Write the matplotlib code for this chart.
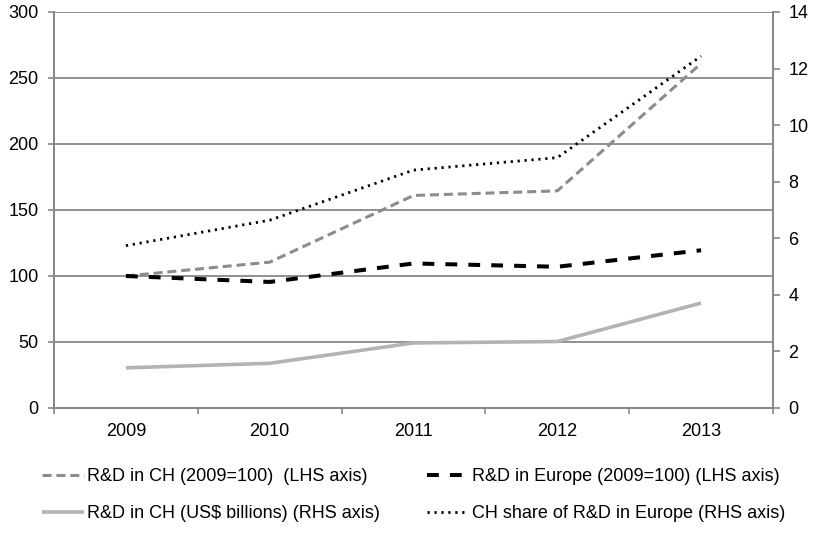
import matplotlib
matplotlib.use("Agg")
import matplotlib.pyplot as plt
from matplotlib.ticker import FixedLocator, NullFormatter

plt.rcParams['font.family'] = ['Liberation Sans', 'DejaVu Sans']
plt.rcParams['lines.scale_dashes'] = False

years = ["2009", "2010", "2011", "2012", "2013"]
ch_index = [100, 110.5, 161, 164.5, 261]          # LHS
europe_index = [100, 95.5, 109.5, 107, 119.5]     # LHS
ch_usd_bn = [1.42, 1.58, 2.30, 2.35, 3.71]        # RHS
ch_share = [5.74, 6.64, 8.41, 8.85, 12.44]        # RHS

labels = ["R&D in CH (2009=100)  (LHS axis)",
          "R&D in Europe (2009=100) (LHS axis)",
          "R&D in CH (US$ billions) (RHS axis)",
          "CH share of R&D in Europe (RHS axis)"]

W, H = 814, 534
fig = plt.figure(figsize=(W / 100, H / 100), dpi=100)
ax = fig.add_axes([54 / W, 1 - 408 / H, (773 - 54) / W, (408 - 12) / H])
ax2 = ax.twinx()

axis_grey = '#888888'
x = list(range(len(years)))

l1, = ax.plot(x, ch_index, color='#8c8c8c', lw=2.2, dashes=(6.5, 3.5), zorder=3)
l2, = ax.plot(x, europe_index, color='black', lw=2.9, dashes=(8.5, 8), zorder=3)
l3, = ax2.plot(x, ch_usd_bn, color='#b3b3b3', lw=2.6, solid_capstyle='butt', zorder=3)
l4, = ax2.plot(x, ch_share, color='black', lw=2.0, dashes=(1.6, 3.4), zorder=3)

ax.set_xlim(-0.5, len(years) - 0.5)
ax.set_ylim(0, 300)
ax2.set_ylim(0, 14)
ax.set_yticks(range(0, 301, 50))
ax2.set_yticks(range(0, 15, 2))

ax.xaxis.set_major_locator(FixedLocator([i - 0.5 for i in range(len(years) + 1)]))
ax.xaxis.set_major_formatter(NullFormatter())
ax.xaxis.set_minor_locator(FixedLocator(x))
ax.set_xticklabels(years, minor=True)
ax.tick_params(axis='x', which='major', length=4, width=1.2, color=axis_grey, direction='out')
ax.tick_params(axis='x', which='minor', length=0, pad=11, labelsize=13)
ax.tick_params(axis='y', length=4, width=1.2, color=axis_grey, pad=7, labelsize=13)
ax2.tick_params(axis='y', length=5, width=1.2, color=axis_grey, pad=6, labelsize=13)

ax.yaxis.grid(True, color=axis_grey, lw=1.3)
ax.set_axisbelow(True)
for a in (ax, ax2):
    a.spines['top'].set_visible(False)
    for s in ('left', 'right', 'bottom'):
        a.spines[s].set_color(axis_grey)
        a.spines[s].set_linewidth(1.3)

handles = [l1, l2, l3, l4]
order = [0, 2, 1, 3]
fig.legend([handles[i] for i in order], [labels[i] for i in order],
           ncol=2, loc='upper left', bbox_to_anchor=(42 / W, 1 - 468 / H),
           frameon=False, fontsize=13, handlelength=2.3, handletextpad=0.2,
           columnspacing=2.6, labelspacing=1.1, borderpad=0, borderaxespad=0)

fig.savefig("out.png", dpi=100)
